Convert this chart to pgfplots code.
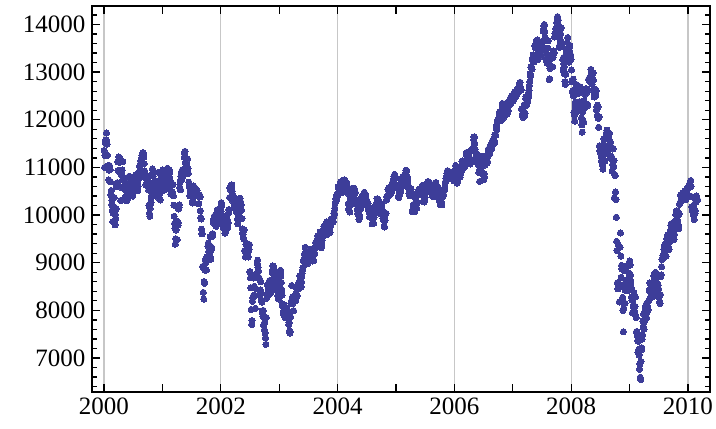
\documentclass[border=0pt]{standalone}
\usepackage{fontspec}
\setmainfont{Liberation Serif}
\usepackage{pgfplots}
\usepackage{pgfplotstable}
\pgfplotsset{compat=1.18}
\definecolor{mblue}{rgb}{0.24,0.24,0.6}

% Dow Jones index: one row per month, 13 readings spread over the month
\pgfplotstableread{
yr mo c1 c2 c3 c4 c5 c6 c7 c8 c9 c10 c11 c12 c13
2000 1 11357 10998 11253 11522 11572 11582 11722 11560 11489 11251 11029 11032 10739
2000 2 10940 11041 10964 10958 10699 10425 10514 10219 10304 10092 9862 10038 10128
2000 3 10137 10367 10164 9796 10011 9929 10131 10630 10595 10680 11119 10936 10922
2000 4 11221 11115 11111 11187 10923 10306 10582 10844 10906 10945 10734 11124 10734
2000 5 10731 10577 10608 10536 10367 10609 10769 10627 10300 10422 10323 10527 10522
2000 6 10653 10794 10815 10668 10615 10449 10714 10557 10449 10404 10542 10398 10448
2000 7 10560 10636 10727 10783 10813 10804 10843 10733 10696 10511 10521 10687 10512
2000 8 10606 10767 10867 10908 11027 11046 11079 11139 11182 11192 11252 11215 11238
2000 9 11310 11260 11220 11080 10928 10808 10789 10847 10631 10824 10651 10700 10651
2000 10 10719 10596 10524 10193 10034 9975 10142 10226 10271 10393 10591 10835 10971
2000 11 10899 10817 10907 10602 10517 10707 10630 10494 10470 10414 10629 10508 10414
2000 12 10374 10560 10899 10712 10617 10434 10645 10318 10487 10635 10803 10868 10787
2001 1 10646 10945 10912 10621 10525 10579 10584 10587 10646 10578 10659 10702 10887
2001 2 10983 10864 10947 10781 10946 10799 10891 10730 10526 10441 10642 10636 10495
2001 3 10450 10466 10644 10403 10208 9973 9823 9720 9389 9504 9687 9785 9879
2001 4 9485 9792 9791 9845 10127 10158 10216 10579 10693 10532 10810 10898 10734
2001 5 10880 10951 10898 10821 10866 10873 11215 11301 11337 11105 11006 10911 10990
2001 6 11061 10977 11175 10977 10871 10690 10623 10596 10404 10472 10504 10434 10502
2001 7 10593 10479 10252 10300 10539 10610 10576 10415 10576 10405 10416 10448 10523
2001 8 10512 10511 10401 10416 10415 10241 10240 10392 10423 10382 10090 9949 9919
2001 9 9705 9605 9606 8921 8903 8376 8236 8604 8567 8848 9060 8990 8848
2001 10 8847 9121 9123 9052 9344 9410 9232 9163 9205 9340 9545 9345 9075
2001 11 9263 9323 9591 9554 9608 9872 9867 9823 9976 9960 9910 9851 9852
2001 12 9763 9894 10049 10112 9811 9888 9891 10036 10035 10088 10137 10128 10021
2002 1 10073 10259 10197 9987 9891 9924 9771 9730 9796 9840 9762 9618 9920
2002 2 9907 9686 9744 9865 9903 9745 9834 10038 10116 10106 10368 10575 10572
2002 3 10525 10611 10609 10635 10501 10427 10281 10404 10362 10235 10271 10249 10190
2002 4 10146 10208 10069 10257 10089 9910 9819 9946 10006 9923 9939 10141 10353
2002 5 10289 10105 10216 10104 9925 9709 9624 9589 9517 9504 9687 9253 9243
2002 6 9120 9254 9379 9406 9379 9132 9253 9140 9120 9243 9286 9380 8813
2002 7 8804 8684 8473 8019 7702 7784 8191 8264 8711 8313 8680 8506 8737
2002 8 8313 8043 8456 8745 8712 8778 8990 9053 8906 8824 8694 8664 8663
2002 9 8308 8427 8602 8380 8207 8172 7986 7942 7873 7998 7684 7701 7592
2002 10 7755 7528 7422 7286 7850 8255 8322 8538 8322 8444 8368 8397 8518
2002 11 8626 8537 8358 8386 8579 8486 8624 8805 8847 8931 8896 8742 8862
2002 12 8742 8645 8574 8473 8433 8535 8607 8512 8493 8303 8342 8236 8342
2003 1 8608 8773 8785 8842 8723 8586 8442 8318 8131 8088 7946 8110 8054
2003 2 8109 7985 7864 7843 8042 8041 7914 8018 7909 7858 7891 7837 7704
2003 3 7740 7568 7524 7553 7859 8142 8194 8522 8214 8280 8145 7992 7992
2003 4 8240 8277 8300 8221 8203 8351 8338 8485 8440 8307 8471 8480 8454
2003 5 8582 8588 8604 8726 8713 8647 8493 8601 8711 8781 8850 8898 9038
2003 6 9063 9054 9183 9118 9323 9179 9200 9109 9011 9072 9040 8985 9070
2003 7 9070 9036 9119 9178 9189 9094 9158 9285 9266 9233 9153 9036 9061
2003 8 9153 9042 9217 9191 9310 9321 9428 9348 9318 9340 9416 9506 9568
2003 9 9503 9420 9459 9471 9567 9645 9535 9320 9313 9380 9469 9572 9594
2003 10 9654 9675 9764 9721 9624 9582 9613 9583 9749 9801 9858 9848 9810
2003 11 9809 9848 9768 9710 9624 9629 9748 9782 9899 9873 9862 9923 9899
2003 12 9873 9862 9965 10042 10008 10145 10248 10278 10338 10305 10324 10425 10454
2004 1 10409 10592 10458 10485 10528 10601 10623 10568 10702 10609 10510 10468 10489
2004 2 10499 10505 10593 10613 10737 10628 10714 10620 10566 10609 10584 10678 10593
2004 3 10529 10457 10240 10128 10102 10186 10064 10213 10328 10381 10470 10558 10442
2004 4 10515 10442 10381 10378 10452 10563 10473 10461 10478 10272 10226 10317 10314
2004 5 10117 10035 10019 10012 10010 9906 9968 9967 10117 10188 10189 10202 10243
2004 6 10391 10410 10334 10380 10417 10371 10479 10372 10357 10435 10283 10335 10214
2004 7 10219 10238 10214 10247 10140 10094 10050 9962 9961 10085 10140 10129 10126
2004 8 9963 9815 9944 9938 9826 9825 9954 10110 10073 10181 10196 10174 10173
2004 9 10260 10341 10289 10314 10318 10284 10244 10047 10038 10080 10136 10192 10177
2004 10 10239 10125 10055 10077 9933 9894 9886 9758 9749 9888 10002 10027 10035
2004 11 10314 10391 10387 10386 10540 10550 10456 10572 10520 10522 10429 10590 10593
2004 12 10547 10495 10543 10676 10691 10661 10759 10815 10828 10854 10776 10800 10783
2005 1 10630 10622 10603 10621 10558 10628 10393 10368 10461 10427 10467 10551 10489
2005 2 10596 10716 10664 10749 10796 10791 10785 10611 10673 10841 10766 10811 10830
2005 3 10940 10912 10936 10774 10804 10745 10630 10565 10456 10442 10485 10405 10404
2005 4 10458 10546 10461 10403 10071 10088 10127 10218 10157 10151 10071 10193 10251
2005 5 10345 10384 10281 10140 10252 10464 10493 10471 10457 10542 10467 10460 10553
2005 6 10476 10460 10503 10512 10578 10623 10609 10421 10297 10405 10275 10303 10371
2005 7 10449 10519 10640 10628 10574 10651 10590 10705 10641 10623 10610 10683 10558
2005 8 10615 10600 10513 10554 10559 10519 10397 10450 10412 10463 10482 10447 10598
2005 9 10633 10679 10682 10641 10558 10378 10420 10443 10552 10569 10535 10441 10287
2005 10 10292 10214 10287 10285 10232 10215 10385 10377 10402 10440 10531 10522 10530
2005 11 10586 10686 10697 10766 10720 10820 10871 10931 10889 10805 10806 10877 10912
2005 12 10835 10767 10778 10823 10883 10881 10876 10833 10805 10883 10777 10796 10718
2006 1 10847 10880 10959 11043 11011 10960 10896 10668 10713 10812 10908 10907 10864
2006 2 10851 10798 10794 10858 10920 10915 11028 11116 11069 11137 11062 10993 11022
2006 3 11005 11050 11077 11102 11150 11279 11253 11317 11280 11215 11109 11170 11109
2006 4 11139 11204 11120 11073 11137 11346 11347 11354 11367 11382 11367 11416 11578
2006 5 11640 11642 11500 11380 11144 11128 11278 11240 11247 11168 11260 11058 11247
2006 6 10891 10931 10706 11015 10973 10990 10940 11190 11150 11228 11091 11103 10846
2006 7 10739 10868 10799 11051 11103 11219 11240 11199 11125 11088 11124 11230 11381
2006 8 11327 11381 11345 11284 11381 11464 11469 11406 11393 11498 11555 11560 11540
2006 9 11533 11613 11569 11508 11689 11669 11679 11850 11867 11792 11960 11980 12011
2006 10 11992 12002 12116 12163 12090 12080 12031 11986 12108 12218 12305 12342 12251
2006 11 12031 12118 12156 12108 12218 12251 12305 12342 12321 12280 12121 12136 12221
2006 12 12194 12283 12331 12307 12315 12416 12445 12471 12343 12463 12510 12463 12463
2007 1 12474 12398 12416 12556 12582 12566 12577 12477 12487 12502 12523 12621 12654
2007 2 12654 12582 12580 12637 12741 12768 12786 12687 12647 12632 12216 12234 12114
2007 3 12114 12050 12192 12277 12318 12075 12133 12288 12447 12481 12300 12354 12354
2007 4 12382 12530 12560 12484 12612 12720 12803 12961 12919 13105 13120 13089 13062
2007 5 13264 13309 13362 13326 13215 13346 13556 13542 13507 13525 13633 13627 13668
2007 6 13676 13487 13266 13424 13482 13553 13639 13613 13360 13337 13408 13535 13577
2007 7 13612 13649 13501 13861 13907 13971 14000 13851 13716 13473 13266 13265 13358
2007 8 13212 13182 13504 13657 13240 13237 12846 12861 13079 13122 13322 13289 13358
2007 9 13305 13363 13113 13308 13424 13442 13403 13739 13815 13820 13913 13896 13930
2007 10 14047 14066 14165 14079 14093 13984 13892 13522 13566 13676 13807 13931 13930
2007 11 13567 13595 13542 13266 13042 13307 13176 13110 12958 12799 12743 12958 13372
2007 12 13406 13444 13625 13727 13233 13232 13339 13207 13450 13551 13366 13365 13265
2008 1 13044 12800 12827 12589 12606 12853 12501 12159 12099 11971 12270 12378 12650
2008 2 12743 12635 12266 12200 12182 12240 12552 12348 12284 12381 12694 12582 12266
2008 3 12258 12040 11894 11740 12157 11972 12214 11951 12392 12361 12532 12300 12262
2008 4 12654 12608 12626 12577 12325 12302 12619 12849 12826 12848 12891 12832 12820
2008 5 13058 12969 12814 12745 12876 12992 12986 12828 12625 12480 12548 12593 12638
2008 6 12503 12604 12209 12280 12083 12307 12270 12029 11843 12061 11453 11346 11350
2008 7 11382 11288 11231 11147 11100 11055 10963 11239 11496 11603 11370 11131 11378
2008 8 11326 11284 11656 11734 11782 11615 11659 11345 11417 11628 11412 11715 11544
2008 9 11516 11188 11220 11231 11421 10917 11059 11388 11015 11022 11143 10365 10851
2008 10 10831 10483 10325 9955 9447 9258 8579 8451 9387 8578 8519 8176 9325
2008 11 9325 9625 9139 8695 8943 8870 8497 8273 7997 7552 8046 8479 8829
2008 12 8149 8419 8591 8635 8934 8629 8924 8604 8579 8419 8515 8668 8776
2009 1 9035 8953 8742 8599 8474 8281 8213 7950 8228 8077 8117 8375 8000
2009 2 7936 8078 8280 7889 7850 7553 7555 7466 7366 7114 7350 7182 7063
2009 3 6763 6876 6594 6547 6926 7170 7216 7395 7486 7776 7660 7925 7608
2009 4 7761 7978 8017 8083 8057 8131 7841 7957 7969 8076 8016 8185 8212
2009 5 8426 8410 8575 8419 8285 8268 8504 8422 8277 8292 8403 8500 8721
2009 6 8740 8675 8764 8770 8799 8612 8497 8539 8322 8472 8438 8529 8447
2009 7 8280 8324 8178 8146 8331 8711 8743 8916 9069 9093 9096 9154 9171
2009 8 9286 9320 9370 9241 9398 9321 9135 9350 9505 9509 9581 9544 9496
2009 9 9310 9280 9441 9497 9605 9683 9791 9820 9748 9707 9665 9590 9712
2009 10 9509 9487 9599 9731 9864 9885 10015 10062 9995 10092 9972 9882 9762
2009 11 9789 9713 10023 10226 10247 10270 10406 10426 10332 10318 10433 10464 10309
2009 12 10471 10388 10390 10406 10471 10501 10441 10328 10415 10520 10547 10545 10428
2010 1 10584 10573 10606 10618 10663 10628 10610 10725 10603 10389 10172 10120 10067
2010 2 10186 10002 10012 9908 10058 10038 10099 10268 10309 10402 10383 10321 10325
}\djia

\begin{document}
\begin{tikzpicture}
\begin{axis}[
  at={(0,0)}, anchor=south west, name=ax,
  scale only axis, width=618bp, height=386bp,
  xmin=1999.795, xmax=2010.377, ymin=6286, ymax=14388,
  xtick={2000,2002,2004,2006,2008,2010},
  xticklabels={2000,2002,2004,2006,2008,2010},
  extra x ticks={2001,2003,2005,2007,2009},
  extra x tick labels={},
  extra x tick style={grid=none},
  ytick={7000,8000,9000,10000,11000,12000,13000,14000},
  yticklabels={7000,8000,9000,10000,11000,12000,13000,14000},
  minor ytick={6400,6600,...,14200},
  xmajorgrids,
  major x grid style={draw=black!22, line width=1.2bp},
  tick align=inside,
  major tick length=8bp, minor tick length=5bp,
  axis line style={line width=1.3bp, black},
  every tick/.style={line width=1.3bp, black},
  tick label style={font=\fontsize{25bp}{30bp}\selectfont, text=black},
  yticklabel style={xshift=-3bp},
  xticklabel style={yshift=-2bp},
  scaled ticks=false,
]
\pgfplotsinvokeforeach{1,...,13}{
\addplot[only marks, mark=*, mark size=3.1bp, color=mblue,
  mark options={fill=mblue, draw=mblue, line width=0bp}]
  table[x expr={\thisrow{yr}+(\thisrow{mo}-1)/12+(#1-0.5)/156}, y=c#1]{\djia};
}
\end{axis}
\pgfresetboundingbox
\path (-92bp,-37bp) rectangle (624bp,392bp);
\end{tikzpicture}
\end{document}
